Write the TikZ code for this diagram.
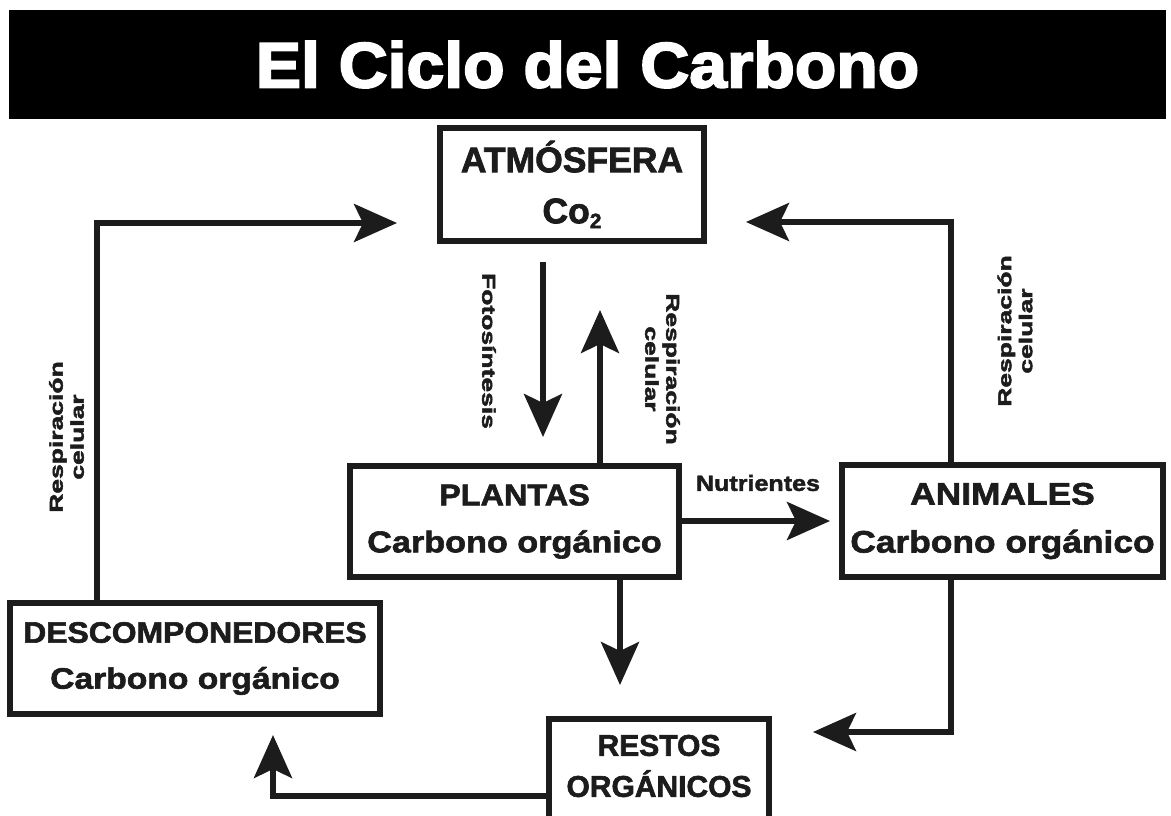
\documentclass[tikz,border=0pt]{standalone}
\usepackage{fontspec}
\setmainfont{Liberation Sans Bold}[FakeBold=2]
\newfontfamily\titlefont{Liberation Sans Bold}[FakeStretch=1.06, FakeBold=3]
\newfontfamily\headfont{Liberation Sans Bold}[FakeStretch=1.08, FakeBold=2]
\newfontfamily\bodyfont{Liberation Sans Bold}[FakeStretch=1.14, FakeBold=2]
\newfontfamily\sidefont{Liberation Sans Bold}[FakeStretch=1.43, FakeBold=2.5]
\usetikzlibrary{arrows.meta, positioning}
\definecolor{ink}{HTML}{1C1C1C}

\begin{document}
\begin{tikzpicture}[x=1pt, y=-1pt,
  box/.style={draw=ink, line width=6pt, inner sep=0pt, align=center, text=ink},
  flow/.style={draw=ink, line width=5.5pt, -{Stealth[length=43pt, width=38pt, inset=9pt]}},
  side/.style={font=\sidefont\fontsize{18.5}{21}\selectfont, align=center, text=ink}]
  \useasboundingbox (0,0) rectangle (1171,816);
  % title bar
  \node[fill=black, minimum width=1157pt, minimum height=109pt, text=white,
    font=\titlefont\fontsize{64}{64}\selectfont] (title) at (587.5,64.5) {El Ciclo del Carbono};
  % reservoirs
  \node[box, minimum width=264pt, minimum height=113pt, font=\fontsize{35.5}{51}\selectfont]
    (atm) at (572,184.5) {ATMÓSFERA\\Co{\fontsize{21}{21}\selectfont\raisebox{-5pt}{2}}};
  \node[box, minimum width=329pt, minimum height=111pt, font=\fontsize{30}{47}\selectfont]
    (pla) at (514.5,521.5) {{\headfont PLANTAS}\\{\bodyfont Carbono orgánico}};
  \node[box, minimum width=321pt, minimum height=112pt, font=\bodyfont\fontsize{31}{48}\selectfont]
    (ani) at (1002.5,521) {ANIMALES\\Carbono orgánico};
  \node[box, minimum width=370pt, minimum height=111pt, font=\fontsize{29.5}{46}\selectfont]
    (des) at (195,658.5) {{\headfont DESCOMPONEDORES}\\{\bodyfont Carbono orgánico}};
  \node[box, minimum width=220pt, minimum height=111pt, anchor=north] (res) at (659,716) {};
  \node[font=\fontsize{30}{41}\selectfont, align=center, text=ink]
    (restxt) at (659,766) {RESTOS\\ORGÁNICOS};
  % helper points for the arrows
  \coordinate (foto) at (543,350);
  \coordinate (resp) at (600,350);
  \coordinate (rest) at (620,640);
  \coordinate (nut) at (760,521);
  \coordinate (lbend) at (97,223);
  \coordinate (rbend) at (951,222);
  \coordinate (rlow) at (951,732);
  \coordinate (blow) at (273,796);
  % flows
  \draw[flow, shorten <=18pt, shorten >=26pt] (atm.south -| foto) -- (pla.north -| foto);
  \draw[flow, shorten >=66pt] (pla.north -| resp) -- (atm.south -| resp);
  \draw[flow, shorten >=31pt] (pla.south -| rest) -- (res.north -| rest);
  \draw[flow, shorten >=9pt] (pla.east |- nut) -- (ani.west |- nut);
  \draw[flow, shorten >=40pt] (des.north -| lbend) |- (atm.west |- lbend);
  \draw[flow, shorten >=39pt] (ani.north -| rbend) |- (atm.east |- rbend);
  \draw[flow, shorten >=41pt] (ani.south -| rlow) |- (res.east |- rlow);
  \draw[flow, shorten >=18pt] (res.west |- blow) -| (des.south -| blow);
  % labels
  \node[side, rotate=-90] (fotolbl) at (489,351) {Fotosíntesis};
  \node[side, rotate=-90] (resplbl) at (662.5,369) {Respiración\\celular};
  \node[side, rotate=90] (leftlbl) at (66.5,437) {Respiración\\celular};
  \node[side, rotate=90] (rightlbl) at (1015,331) {Respiración\\celular};
  \node[font=\bodyfont\fontsize{22}{22}\selectfont, text=ink] (nutlbl) at (758,483) {Nutrientes};
\end{tikzpicture}
\end{document}
